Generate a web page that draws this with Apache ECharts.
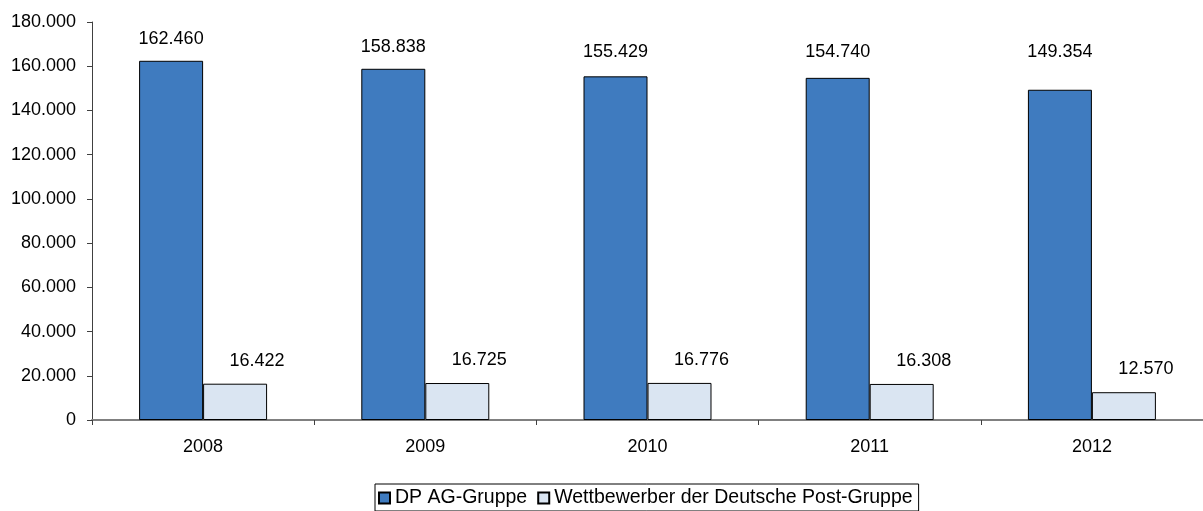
<!DOCTYPE html>
<html>
<head>
<meta charset="utf-8">
<script src="https://cdn.jsdelivr.net/npm/echarts@6/dist/echarts.min.js"></script>
<style>
html,body{margin:0;padding:0;background:#fff;}
#chart{width:1203px;height:511px;}
</style>
</head>
<body>
<div id="chart"></div>
<script>
// Beschäftigte im Briefmarkt, 2008–2012
const years = ['2008', '2009', '2010', '2011', '2012'];
const dpGruppe = [162460, 158838, 155429, 154740, 149354];
const wettbewerber = [16422, 16725, 16776, 16308, 12570];
const seriesNames = ['DP AG-Gruppe', 'Wettbewerber der Deutsche Post-Gruppe'];

// extra vertical lift (px) of the DP value labels, which sit on a common line
const dpLabelLift = [0, 0, 2, 4, 16];

const font = 'Liberation Sans, Arial, sans-serif';
const fmt = v => String(v).replace(/\B(?=(\d{3})+(?!\d))/g, '.');

const labelBase = { show: true, position: 'top', distance: 13, fontSize: 18, color: '#000', fontFamily: font };

const chart = echarts.init(document.getElementById('chart'));
chart.setOption({
  animation: false,
  textStyle: { fontFamily: font },
  grid: { left: 92, right: -1, top: 22, bottom: 91, containLabel: false },
  legend: {
    bottom: 0,
    left: 375,
    data: seriesNames,
    icon: 'rect',
    itemWidth: 11,
    itemHeight: 11,
    itemGap: 10,
    padding: [4, 6, 3, 3],
    borderColor: '#000',
    borderWidth: 1,
    textStyle: { fontSize: 19.5, color: '#000', fontFamily: font, padding: [0, 0, 0, 0] }
  },
  xAxis: {
    type: 'category',
    data: years,
    axisLine: { lineStyle: { color: '#808080', width: 2 } },
    axisTick: { show: true, length: 5, lineStyle: { color: '#404040' } },
    axisLabel: { fontSize: 18, color: '#000', margin: 18 },
    splitLine: { show: false }
  },
  yAxis: {
    type: 'value',
    min: 0,
    max: 180000,
    interval: 20000,
    axisLine: { show: true, lineStyle: { color: '#404040' } },
    axisTick: { show: true, length: 5, lineStyle: { color: '#404040' } },
    axisLabel: { fontSize: 18, color: '#000', margin: 16, formatter: fmt },
    splitLine: { show: false }
  },
  series: [
    {
      name: seriesNames[0],
      type: 'bar',
      data: dpGruppe.map((v, i) => ({
        value: v,
        label: { offset: [0, -dpLabelLift[i]] }
      })),
      barWidth: '28.8%',
      barGap: '0%',
      itemStyle: { color: '#3F7BBF', borderColor: '#000', borderWidth: 1 },
      label: Object.assign({}, labelBase, { formatter: p => fmt(p.value) })
    },
    {
      name: seriesNames[1],
      type: 'bar',
      data: wettbewerber,
      barWidth: '28.8%',
      itemStyle: { color: '#DAE5F2', borderColor: '#000', borderWidth: 1 },
      label: Object.assign({}, labelBase, { distance: 14, offset: [22, 0], formatter: p => fmt(p.value) })
    }
  ]
});
</script>
</body>
</html>
